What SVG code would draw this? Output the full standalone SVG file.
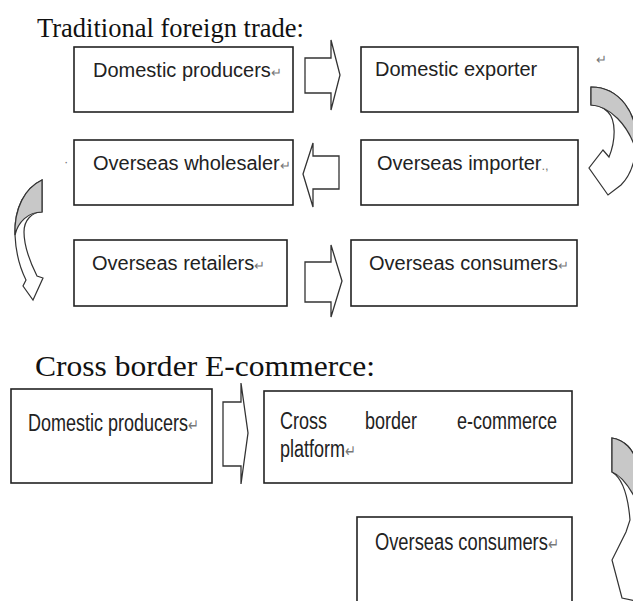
<svg xmlns="http://www.w3.org/2000/svg" width="633" height="601" viewBox="0 0 633 601">
<style>
.title{font-family:"Liberation Serif","Times New Roman",serif;font-size:26.5px;fill:#111}
.title2{font-family:"Liberation Serif","Times New Roman",serif;font-size:29px;fill:#111}
.lbl{font-family:"Liberation Sans",Arial,sans-serif;font-size:20px;fill:#222}
.lbl2{font-family:"Liberation Sans",Arial,sans-serif;font-size:23.5px;fill:#222}
.pm{fill:#777;font-size:13px}
.pm2{fill:#777;font-size:17px}
.box{fill:#fff;stroke:#222;stroke-width:1.6}
.blk{fill:#fff;stroke:#333;stroke-width:1.3;stroke-linejoin:miter}
.cw{fill:#fff;stroke:#333;stroke-width:1.2}
.cg{fill:#c8c8c8;stroke:#333;stroke-width:1.2}
</style>
<rect width="633" height="601" fill="#fff"/>
<text class="title" x="37" y="37">Traditional foreign trade:</text>
<text class="title2" x="35" y="376" textLength="340" lengthAdjust="spacingAndGlyphs">Cross border E-commerce:</text>

<g id="n1"><rect class="box" x="74" y="47" width="219" height="65"/><text class="lbl" x="93" y="77">Domestic producers<tspan class="pm">↵</tspan></text></g>
<g id="n2"><rect class="box" x="361" y="47" width="217" height="65"/><text class="lbl" x="375" y="76">Domestic exporter</text></g>
<g id="n3"><rect class="box" x="74" y="140" width="219" height="65"/><text class="lbl" x="93" y="170">Overseas wholesaler<tspan class="pm">↵</tspan></text></g>
<g id="n4"><rect class="box" x="361" y="140" width="217" height="65"/><text class="lbl" x="377" y="170">Overseas importer<tspan class="pm">.,</tspan></text></g>
<g id="n5"><rect class="box" x="74" y="240" width="213" height="66"/><text class="lbl" x="92" y="270">Overseas retailers<tspan class="pm">↵</tspan></text></g>
<g id="n6"><rect class="box" x="351" y="240" width="226" height="66"/><text class="lbl" x="369" y="270">Overseas consumers<tspan class="pm">↵</tspan></text></g>

<g id="n7"><rect class="box" x="11" y="389" width="201" height="94"/><text class="lbl2" transform="translate(28,431) scale(0.766,1)">Domestic producers<tspan class="pm2">↵</tspan></text></g>
<g id="n8"><rect class="box" x="264" y="391" width="308" height="92"/><text class="lbl2" transform="translate(280,429) scale(0.766,1)"><tspan x="0">Cross</tspan><tspan x="111">border</tspan><tspan x="231">e-commerce</tspan></text><text class="lbl2" transform="translate(280,457) scale(0.766,1)">platform<tspan class="pm2">↵</tspan></text></g>
<g id="n9"><rect class="box" x="357" y="517" width="215" height="90"/><text class="lbl2" transform="translate(375,550) scale(0.779,1)">Overseas consumers<tspan class="pm2">↵</tspan></text></g>

<g id="marks"><text class="lbl pm" x="596" y="64">↵</text><text class="lbl pm" x="64" y="166">·</text></g>

<g id="connectors">
<path class="blk" d="M305,58 L331,58 L331,40 L340,75 L331,110 L331,93 L305,93 Z"/>
<path class="blk" d="M339,156 L313,156 L313,143 L303,174 L313,207 L313,189 L339,189 Z"/>
<path class="blk" d="M305,262 L331,262 L331,245 L342,281 L331,317 L331,302 L305,302 Z"/>
<path class="blk" d="M223,402 L241,402 L241,383 L248,433 L241,484 L241,466 L223,466 Z"/>
<path class="cw" d="M591,87 C618,87 640,112 636,150 C634,165 628,178 621,185 L608,195 L589,168 L603,150 L609,157 C616,140 616,120 608,112 C603,107 597,105 591,105 Z"/>
<path class="cg" d="M591,87 C618,87 640,112 636,150 C628,125 610,106 591,105 Z"/>
<path class="cw" d="M42,180 C25,188 14,208 15,235 C16,258 22,272 26,280 L23,286 L33,300 L43,278 L37,276 C30,262 24,248 24,232 C24,220 32,212 42,212 Z"/>
<path class="cg" d="M42,180 C25,188 14,208 15,235 C18,222 28,212 42,212 Z"/>
<path class="cw" d="M612,438 C625,440 633,450 636,460 L636,601 L622,598 L612,560 L626,532 L630,520 C628,495 622,478 612,472 Z"/>
<path class="cg" d="M612,438 C625,440 633,450 636,460 L636,500 C630,488 622,476 612,472 Z"/>
</g>
</svg>
